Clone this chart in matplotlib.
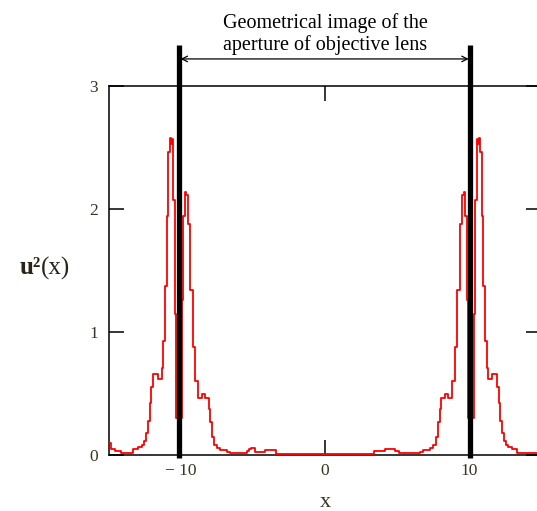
import matplotlib
matplotlib.use("Agg")
import matplotlib.pyplot as plt

# ---- data (step curve) ----
x_left = [-15.0, -14.85, -14.6, -14.2, -13.3, -13.0, -12.7, -12.55, -12.4, -12.28,
          -12.17, -12.05, -11.93, -11.6, -11.35, -11.23, -11.12, -11.0, -10.9, -10.78,
          -10.7, -10.62, -10.55, -10.45, -10.33, -10.2, -10.05, -9.95, -9.85, -9.75,
          -9.62, -9.5, -9.36, -9.17, -9.01, -8.85, -8.55, -8.3, -8.09, -7.98,
          -7.86, -7.7, -7.52, -7.29, -6.83, -6.6, -5.45, -5.3, -5.15, -4.87,
          -4.18, -3.38]
y_left = [0.10, 0.05, 0.03, 0.015, 0.05, 0.065, 0.08, 0.11, 0.18, 0.28,
          0.42, 0.55, 0.66, 0.62, 0.71, 0.93, 1.37, 1.94, 2.46, 2.58,
          2.53, 2.57, 2.07, 1.15, 0.30, 0.05, 0.30, 1.26, 1.94, 2.14,
          2.11, 1.88, 1.34, 0.88, 0.60, 0.46, 0.50, 0.46, 0.37, 0.27,
          0.15, 0.08, 0.054, 0.04, 0.025, 0.013, 0.03, 0.045, 0.06, 0.027,
          0.04, 0.01]
x_right = [3.38, 3.7, 4.2, 4.87, 5.15, 5.45, 6.6, 6.83, 7.29, 7.52,
           7.7, 7.86, 7.98, 8.09, 8.3, 8.55, 8.85, 9.01, 9.17, 9.36,
           9.5, 9.62, 9.75, 9.85, 9.95, 10.05, 10.2, 10.33, 10.45, 10.55,
           10.62, 10.7, 10.78, 10.9, 11.0, 11.12, 11.23, 11.35, 11.6, 11.93,
           12.05, 12.17, 12.28, 12.4, 12.55, 12.7, 13.0, 13.3, 14.2, 14.6,
           14.85, 15.0]
y_right = [0.035, 0.03, 0.05, 0.03, 0.015, 0.013, 0.025, 0.04, 0.054, 0.08,
           0.15, 0.27, 0.37, 0.46, 0.50, 0.46, 0.60, 0.88, 1.34, 1.88,
           2.11, 2.14, 1.94, 1.26, 0.30, 0.05, 0.30, 1.15, 2.07, 2.57,
           2.53, 2.58, 2.46, 1.94, 1.37, 0.93, 0.71, 0.62, 0.66, 0.55,
           0.42, 0.28, 0.18, 0.11, 0.08, 0.065, 0.05, 0.015, 0.015, 0.02,
           0.03, 0.03]

aperture_x = [-10.15, 10.1]
x_ticks = [-10, 0, 10]
x_tick_labels = ["\u2212 10", "0", "10"]
y_ticks = [0, 1, 2, 3]
y_tick_labels = ["0", "1", "2", "3"]
annotation = "Geometrical image of the\naperture of objective lens"

xs = x_left + x_right
ys = y_left + y_right

W, H = 537, 511
fig = plt.figure(figsize=(W / 100, H / 100), dpi=100)
ax = fig.add_axes([109 / W, (H - 455) / H, (541 - 109) / W, (455 - 86) / H])

serif = ["Liberation Serif", "DejaVu Serif"]
txt_col = "#3b3426"

ax.step(xs, ys, where="post", color="#ff0000", lw=1.3, zorder=3)
ax.set_xlim(-15, 15)
ax.set_ylim(0, 3)

for s in ax.spines.values():
    s.set_linewidth(1.1)
    s.set_color("black")

ax.set_xticks(x_ticks)
ax.set_xticklabels(x_tick_labels, fontfamily=serif, fontsize=12.5, color=txt_col)
ax.set_yticks(y_ticks)
ax.set_yticklabels(y_tick_labels, fontfamily=serif, fontsize=12.5, color=txt_col)
ax.tick_params(axis="both", direction="in", length=10.5, width=1.1,
               top=True, right=True, colors="black")
ax.tick_params(axis="x", pad=6, labelcolor=txt_col)
ax.tick_params(axis="y", pad=8, labelcolor=txt_col)

# aperture lines
for xv in aperture_x:
    ax.plot([xv, xv], [-0.025, 3.33], color="black", lw=3.8, clip_on=False,
            zorder=5, solid_capstyle="butt")

ax.annotate("", xy=(aperture_x[0] + 0.12, 3.22), xytext=(aperture_x[1] - 0.12, 3.22),
            xycoords="data", textcoords="data",
            arrowprops=dict(arrowstyle="<->", color="black", lw=0.9,
                            shrinkA=0, shrinkB=0, mutation_scale=10),
            annotation_clip=False)
ax.text(0, 3.42, annotation, ha="center", va="center", fontfamily=serif,
        fontsize=14.5, color="black", linespacing=1.12, clip_on=False)

ax.set_xlabel("x", fontfamily=serif, fontsize=16, color=txt_col, labelpad=10)
fig.text(41 / W, 1 - 268 / H, "u\u00b2", ha="right", va="center",
         fontfamily=serif, fontsize=18, fontweight="bold", color="#2a2418")
fig.text(41 / W, 1 - 268 / H, "(x)", ha="left", va="center",
         fontfamily=serif, fontsize=18, color="#2a2418")

fig.savefig("out.png", dpi=100)
